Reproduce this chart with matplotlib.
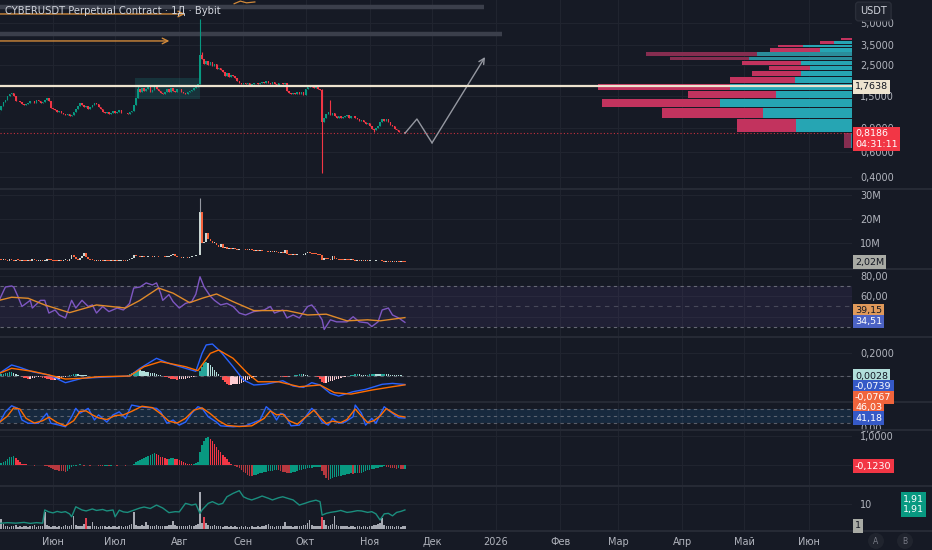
import matplotlib
matplotlib.use("Agg")
import matplotlib.pyplot as plt
import matplotlib.dates as mdates
import numpy as np
import pandas as pd
from matplotlib.lines import Line2D
from matplotlib.patches import Rectangle
from matplotlib.ticker import NullLocator
from matplotlib.transforms import blended_transform_factory

plt.rcParams['font.family'] = ['DejaVu Sans']

# ---------------- data ----------------
START = "2025-05-06"
FIRST_OPEN = 1.12
CLOSES = [
    1.20, 1.28, 1.36, 1.42, 1.50, 1.55, 1.58, 1.52, 1.40, 1.38,
    1.36, 1.33, 1.30, 1.32, 1.35, 1.40, 1.38, 1.35, 1.42, 1.38,
    1.34, 1.36, 1.42, 1.45, 1.40, 1.24, 1.22, 1.20, 1.16, 1.18,
    1.14, 1.12, 1.10, 1.12, 1.08, 1.11, 1.16, 1.22, 1.28, 1.34,
    1.30, 1.26, 1.28, 1.22, 1.25, 1.30, 1.35, 1.32, 1.27, 1.22,
    1.16, 1.14, 1.17, 1.13, 1.15, 1.18, 1.14, 1.16, 1.19, 1.15,
    1.14, 1.15, 1.13, 1.16, 1.18, 1.30, 1.45, 1.68, 1.62, 1.72,
    1.65, 1.70, 1.75, 1.62, 1.66, 1.78, 1.70, 1.64, 1.58, 1.55,
    1.62, 1.68, 1.60, 1.72, 1.65, 1.60, 1.68, 1.70, 1.62, 1.58,
    1.55, 1.60, 1.63, 1.66, 1.72, 1.80, 1.85, 2.95, 2.75, 2.55,
    2.70, 2.50, 2.65, 2.45, 2.55, 2.35, 2.40, 2.30, 2.25, 2.10,
    2.20, 2.05, 2.12, 2.08, 2.02, 1.92, 1.88, 1.85, 1.86, 1.84,
    1.86, 1.82, 1.85, 1.88, 1.86, 1.83, 1.87, 1.90, 1.88, 1.92,
    1.86, 1.84, 1.90, 1.85, 1.82, 1.86, 1.88, 1.84, 1.86, 1.65,
    1.58, 1.56, 1.58, 1.55, 1.60, 1.56, 1.62, 1.53, 1.68, 1.74,
    1.80, 1.76, 1.72, 1.75, 1.70, 1.66, 0.98, 1.06, 1.12, 1.16,
    1.10, 1.14, 1.08, 1.06, 1.09, 1.05, 1.07, 1.08, 1.10, 1.06,
    1.08, 1.09, 1.05, 1.03, 1.00, 1.02, 0.98, 0.95, 0.97, 0.92,
    0.88, 0.87, 0.90, 0.93, 0.98, 1.03, 1.00, 1.04, 0.99, 0.94,
    0.92, 0.88, 0.86, 0.84, 0.83, 0.84, 0.8186,
]
WICK_HIGHS = {67: 1.80, 97: 5.30, 98: 3.10, 156: 1.70, 160: 1.41}
WICK_LOWS = {96: 1.76, 156: 0.43, 181: 0.84}
LAST_PRICE = 0.8186
LEVEL_PRICE = 1.7638

# right-hand volume profile (price bins, buy / sell volume)
VP_LOW = [3.78, 3.54, 3.37, 3.10, 2.91, 2.72, 2.51, 2.31, 2.10, 1.88, 1.66, 1.46, 1.26, 1.05, 0.84, 0.64]
VP_HIGH = [3.91, 3.72, 3.48, 3.32, 3.08, 2.86, 2.68, 2.47, 2.27, 2.06, 1.85, 1.64, 1.44, 1.24, 1.03, 0.82]
VP_BUY = [0, 18, 49, 32, 95, 103, 51, 42, 51, 57, 122, 76, 132, 89, 56, 1]
VP_SELL = [11, 14, 25, 50, 111, 79, 59, 41, 49, 65, 132, 88, 118, 101, 59, 7]
VP_FADED = [4, 5, 15]

# drawings on the price pane
ARROW_LEVELS = [5.79, 3.72]
ARROW_END_DAYS = [89.8, 82.2]
BAND_LEVELS = [6.54, 4.17]
BAND_END_DAYS = [234.0, 243.0]
BOX_DAYS = (65.6, 97.0)
BOX_PRICES = (1.44, 2.03)
PATH_DAYS = [196.0, 201.8, 209.1, 234.7]
PATH_PRICES = [0.8186, 1.035, 0.70, 2.86]
SQUIGGLE_DAYS = [113.5, 116.5, 119.5, 123.5]
SQUIGGLE_PRICES = [6.85, 7.15, 6.95, 7.05]

VOLUME = [  # millions
    3.2, 2.8, 3.5, 3.0, 2.6, 3.3, 2.9, 2.7, 3.1, 2.8,
    2.6, 3.0, 2.7, 2.5, 2.9, 2.6, 3.2, 2.8, 2.6, 2.7,
    2.9, 2.5, 2.7, 3.4, 3.0, 2.8, 2.6, 2.5, 2.4, 2.6,
    2.5, 2.8, 3.0, 2.7, 3.3, 5.0, 4.2, 3.4, 3.0, 3.6,
    4.5, 6.0, 4.2, 3.5, 3.0, 2.8, 2.7, 2.9, 2.6, 2.8,
    2.5, 2.7, 2.6, 2.4, 2.6, 2.5, 2.7, 2.5, 2.6, 2.8,
    2.7, 2.6, 3.0, 3.4, 3.8, 4.8, 4.4, 4.6, 4.2, 4.5,
    4.3, 4.0, 4.4, 4.7, 4.2, 4.4, 4.6, 4.3, 4.0, 4.2,
    4.1, 4.3, 4.5, 4.8, 5.4, 4.6, 4.2, 4.0, 3.8, 4.0,
    4.1, 3.9, 4.2, 4.4, 4.6, 4.8, 5.2, 23.0, 10.0, 10.4,
    14.0, 11.5, 11.0, 10.0, 10.2, 9.0, 8.5, 9.5, 8.0, 8.4,
    7.6, 7.9, 7.4, 7.8, 7.5, 7.2, 7.6, 7.3, 7.5, 7.2,
    7.0, 7.4, 7.1, 6.8, 7.0, 6.6, 6.9, 6.7, 6.5, 6.8,
    6.4, 6.6, 6.3, 6.5, 6.2, 6.0, 6.3, 6.0, 7.0, 5.5,
    5.2, 5.0, 5.1, 4.9, 5.0, 4.8, 5.0, 5.2, 6.0, 6.3,
    5.8, 5.6, 5.4, 5.3, 5.1, 5.0, 3.0, 3.6, 3.3, 3.2,
    3.0, 4.5, 3.5, 3.2, 3.1, 3.0, 2.9, 3.0, 2.9, 2.8,
    3.0, 2.8, 2.7, 2.9, 2.6, 2.7, 2.5, 2.6, 2.4, 2.5,
    2.3, 2.4, 2.6, 2.3, 2.5, 2.4, 2.2, 2.3, 2.2, 2.1,
    2.3, 2.1, 2.2, 2.0, 2.1, 2.05, 2.02,
]
VOLUME_WICKS = {97: 28.7}

RSI_DAYS = [0, 3, 6, 7, 9, 11, 13, 15, 16, 20, 22, 24, 27, 29, 32, 35, 37, 40, 43, 45,
            47, 50, 53, 57, 60, 63, 65, 68, 71, 74, 76, 78, 79, 82, 84, 87, 90, 93, 95, 97,
            99, 102, 104, 107, 110, 113, 116, 119, 123, 128, 131, 133, 137, 139, 142, 145,
            149, 151, 153, 156, 157, 160, 163, 168, 171, 174, 178, 180, 183, 185, 188, 190,
            193, 196]
RSI_VALS = [56, 69, 70, 69, 60, 50, 53, 56, 48.5, 56, 56, 43.6, 46.6, 41.7, 38.8, 56, 48.5,
            56, 50, 51.5, 43.6, 50, 45, 48.5, 46.6, 53, 68, 69, 73, 71, 73, 63, 56, 61.6, 54.7,
            48.5, 53, 54.7, 62, 79, 69, 60, 56, 51.5, 53, 50, 43.6, 41.7, 45, 46.6, 50, 43.6,
            46.6, 38.8, 41.7, 38.8, 50, 51.5, 46.6, 37, 27.6, 37, 35, 35, 40, 35, 34, 30.4, 35,
            46.6, 48.5, 41.7, 38.8, 34.51]
RSI_MA_DAYS = [0, 6, 14, 22, 34, 47, 61, 68, 77, 84, 92, 98, 105, 113, 123, 139, 149, 158,
               168, 178, 184, 196]
RSI_MA_VALS = [56, 59, 58, 51.5, 44, 51.5, 48.5, 56, 68, 63, 53.7, 58, 62.2, 54.7, 46, 46,
               41.7, 42.5, 36, 37, 36, 39.15]

MACD_DAYS = [0, 6, 10, 16, 24, 32, 40, 48, 63, 68, 76, 82, 90, 95, 98, 100, 103, 107, 113,
             118, 123, 129, 137, 142, 147, 151, 155, 160, 164, 171, 177, 185, 190, 196]
MACD_VALS = [0.023, 0.096, 0.075, 0.037, 0.009, -0.058, -0.02, -0.012, 0, 0.067, 0.154, 0.11,
             0.067, 0.041, 0.197, 0.27, 0.278, 0.211, 0.081, -0.035, -0.078, -0.07, -0.041,
             -0.087, -0.099, -0.058, -0.078, -0.151, -0.174, -0.136, -0.116, -0.072, -0.064,
             -0.0739]
SIGNAL_DAYS = [0, 6, 16, 24, 32, 40, 48, 63, 70, 78, 90, 96, 102, 106, 113, 120, 125, 135,
               145, 155, 162, 170, 180, 190, 196]
SIGNAL_VALS = [0.023, 0.067, 0.041, 0.009, -0.026, -0.02, -0.006, 0, 0.081, 0.125, 0.081,
               0.047, 0.197, 0.226, 0.154, 0.023, -0.05, -0.05, -0.093, -0.078, -0.145,
               -0.157, -0.122, -0.093, -0.0767]
MACD_HIST = [
    0.010, 0.015, 0.020, 0.026, 0.030, 0.034, 0.035, 0.030, 0.018, 0.008,
    -0.004, -0.010, -0.015, -0.020, -0.023, -0.022, -0.018, -0.015, -0.012, -0.010,
    -0.012, -0.016, -0.020, -0.026, -0.030, -0.034, -0.036, -0.032, -0.028, -0.024,
    -0.018, -0.012, -0.006, 0.002, 0.008, 0.012, 0.016, 0.018, 0.016, 0.012,
    0.010, 0.008, 0.006, 0.004, 0.002, 0.000, -0.002, -0.004, -0.006, -0.008,
    -0.010, -0.012, -0.010, -0.008, -0.006, -0.004, -0.003, -0.002, -0.001, 0.000,
    0.002, 0.004, 0.008, 0.015, 0.025, 0.035, 0.045, 0.050, 0.048, 0.044,
    0.040, 0.036, 0.033, 0.030, 0.026, 0.022, 0.018, 0.012, 0.006, 0.000,
    -0.006, -0.012, -0.018, -0.022, -0.026, -0.030, -0.031, -0.030, -0.028, -0.026,
    -0.024, -0.020, -0.016, -0.012, -0.008, -0.004, 0.000, 0.040, 0.080, 0.110,
    0.120, 0.112, 0.095, 0.075, 0.055, 0.035, 0.015, -0.010, -0.035, -0.055,
    -0.070, -0.076, -0.074, -0.072, -0.070, -0.068, -0.066, -0.062, -0.055, -0.045,
    -0.035, -0.025, -0.016, -0.010, -0.006, -0.003, 0.000, 0.002, 0.003, 0.004,
    0.003, 0.002, 0.001, 0.000, -0.002, -0.004, -0.006, -0.008, -0.010, -0.012,
    -0.008, -0.004, 0.002, 0.008, 0.012, 0.016, 0.018, 0.016, 0.012, 0.008,
    0.004, 0.000, -0.004, -0.008, -0.012, -0.030, -0.055, -0.060, -0.058, -0.052,
    -0.046, -0.040, -0.034, -0.028, -0.022, -0.016, -0.010, -0.005, 0.000, 0.004,
    0.008, 0.012, 0.014, 0.016, 0.015, 0.013, 0.012, 0.010, 0.012, 0.015,
    0.018, 0.020, 0.019, 0.017, 0.015, 0.016, 0.018, 0.017, 0.015, 0.012,
    0.010, 0.008, 0.007, 0.006, 0.005, 0.004, 0.003,
]

STOCH_K_DAYS = [0, 3, 6, 9, 11, 14, 19, 23, 25, 29, 32, 35, 37, 39, 43, 46, 48, 52, 55, 58,
                61, 64, 68, 71, 76, 78, 81, 84, 87, 90, 93, 96, 98, 101, 105, 107, 113, 119,
                126, 129, 131, 134, 136, 138, 141, 145, 148, 151, 153, 156, 159, 161, 164,
                167, 171, 172, 175, 177, 180, 182, 186, 188, 191, 193, 196]
STOCH_K_VALS = [19, 68, 94, 83, 33, 19, 19, 62, 19, 11, 4, 47, 83, 62, 83, 33, 55, 24, 55, 68,
                40, 97, 90, 87, 83, 68, 19, 33, 11, 24, 62, 90, 83, 47, 24, 8, 4, 8, 33, 90,
                75, 33, 62, 55, 8, 11, 47, 83, 68, 24, 11, 40, 19, 24, 47, 97, 62, 11, 40, 19,
                90, 75, 55, 43, 41.18]
STOCH_D_DAYS = [0, 4, 7, 10, 13, 17, 21, 24, 28, 32, 36, 39, 42, 45, 48, 52, 56, 60, 64, 69,
                74, 78, 82, 86, 90, 94, 98, 102, 106, 110, 116, 122, 128, 131, 134, 137, 140,
                144, 148, 152, 155, 158, 161, 165, 168, 172, 175, 178, 181, 184, 187, 190,
                193, 196]
STOCH_D_VALS = [22, 50, 85, 80, 40, 20, 30, 45, 22, 8, 30, 70, 72, 55, 42, 35, 52, 55, 70, 92,
                86, 60, 28, 20, 40, 75, 85, 60, 30, 10, 5, 8, 40, 72, 55, 58, 30, 15, 45, 75,
                45, 18, 28, 22, 35, 80, 50, 22, 30, 50, 82, 65, 50, 46.03]

MOMENTUM = [
    0.05, 0.08, 0.12, 0.16, 0.22, 0.28, 0.30, 0.31, 0.26, 0.18,
    0.10, 0.06, 0.04, 0.03, 0.02, 0.01, 0.00, -0.01, 0.01, 0.02,
    0.01, 0.00, -0.01, -0.02, -0.05, -0.08, -0.12, -0.15, -0.17, -0.19,
    -0.20, -0.21, -0.22, -0.20, -0.12, -0.05, -0.03, -0.02, 0.02, 0.03,
    0.01, -0.01, 0.02, 0.00, -0.02, 0.01, 0.02, 0.00, -0.01, -0.02,
    -0.03, -0.02, -0.01, -0.02, -0.01, 0.00, 0.01, -0.01, 0.00, 0.01,
    0.00, -0.01, 0.00, 0.01, 0.02, 0.06, 0.10, 0.14, 0.18, 0.22,
    0.26, 0.30, 0.33, 0.36, 0.39, 0.41, 0.38, 0.34, 0.30, 0.27,
    0.24, 0.20, 0.22, 0.24, 0.25, 0.23, 0.20, 0.17, 0.14, 0.11,
    0.08, 0.06, 0.05, 0.04, 0.05, 0.08, 0.10, 0.45, 0.70, 0.85,
    0.94, 0.99, 0.92, 0.82, 0.72, 0.62, 0.52, 0.44, 0.36, 0.28,
    0.20, 0.12, 0.06, 0.02, -0.02, -0.06, -0.10, -0.16, -0.22, -0.28,
    -0.33, -0.36, -0.37, -0.35, -0.32, -0.29, -0.27, -0.25, -0.23, -0.22,
    -0.21, -0.20, -0.19, -0.18, -0.17, -0.18, -0.20, -0.22, -0.24, -0.27,
    -0.28, -0.26, -0.24, -0.22, -0.20, -0.18, -0.16, -0.14, -0.12, -0.10,
    -0.09, -0.08, -0.07, -0.06, -0.05, -0.05, -0.20, -0.35, -0.45, -0.50,
    -0.48, -0.45, -0.42, -0.40, -0.38, -0.36, -0.34, -0.32, -0.30, -0.29,
    -0.28, -0.30, -0.28, -0.26, -0.28, -0.25, -0.23, -0.20, -0.18, -0.16,
    -0.14, -0.12, -0.10, -0.08, -0.06, -0.05, -0.04, -0.05, -0.07, -0.09,
    -0.10, -0.11, -0.12, -0.11, -0.12, -0.13, -0.123,
]

BOTTOM_BARS = [
    10.3, 4.0, 2.0, 1.2, 1.0, 0.8, 1.1, 0.9, 1.3, 0.8,
    1.0, 0.7, 1.2, 0.9, 0.8, 1.1, 0.9, 1.4, 0.8, 1.0,
    0.9, 1.2, 6.9, 1.5, 1.0, 0.8, 1.2, 0.9, 0.7, 1.0,
    0.8, 1.1, 1.3, 0.9, 1.0, 1.6, 5.0, 1.4, 1.0, 0.9,
    1.2, 1.8, 4.2, 1.2, 1.0, 2.8, 1.1, 0.9, 0.8, 1.0,
    0.9, 1.1, 0.8, 1.0, 0.7, 0.9, 1.2, 0.8, 1.0, 0.9,
    0.8, 1.0, 1.1, 1.3, 1.8, 6.9, 1.5, 1.2, 1.0, 1.4,
    1.1, 2.6, 1.3, 1.0, 1.2, 0.9, 1.3, 1.0, 1.1, 0.9,
    1.0, 1.2, 1.4, 1.5, 3.2, 1.3, 1.1, 1.0, 1.2, 0.9,
    1.0, 1.1, 1.3, 1.0, 1.2, 1.4, 1.8, 15.0, 2.4, 4.6,
    2.1, 1.5, 1.2, 1.0, 1.3, 0.9, 1.0, 1.1, 0.8, 1.0,
    0.9, 0.8, 1.0, 0.7, 0.9, 0.8, 0.7, 1.0, 0.8, 0.9,
    0.7, 0.8, 0.9, 0.7, 0.8, 1.0, 0.8, 0.9, 1.2, 1.4,
    2.0, 1.0, 0.9, 0.8, 1.0, 1.1, 0.9, 1.2, 2.8, 1.0,
    0.9, 1.0, 0.8, 1.1, 1.0, 0.9, 1.2, 1.4, 1.6, 2.2,
    3.5, 1.6, 1.2, 1.0, 0.9, 1.1, 4.8, 3.6, 1.5, 1.2,
    1.4, 1.8, 5.0, 1.6, 1.2, 1.0, 0.9, 1.1, 1.0, 0.8,
    0.9, 1.0, 0.8, 0.9, 1.1, 0.8, 1.0, 0.9, 0.8, 1.0,
    1.1, 1.4, 1.6, 1.8, 2.4, 4.2, 1.5, 1.2, 1.0, 0.9,
    1.0, 0.8, 0.9, 1.1, 0.8, 0.9, 1.0,
]
BOTTOM_RED_DAYS = [42, 99, 156]
BOTTOM_LINE_DAYS = [0, 4, 8, 12, 15, 18, 21, 22, 24, 26, 28, 30, 32, 34, 35, 37, 40, 42, 45,
                    47, 50, 52, 55, 56, 58, 60, 62, 64, 66, 68, 70, 73, 76, 79, 82, 85, 87, 90,
                    93, 95, 97, 98, 101, 103, 106, 108, 110, 113, 116, 118, 120, 122, 125, 127,
                    130, 132, 135, 137, 140, 142, 145, 148, 150, 153, 155, 156, 158, 160, 163,
                    165, 168, 170, 173, 175, 178, 180, 182, 184, 186, 188, 190, 192, 194, 196]
BOTTOM_LINE_VALS = [2.1, 2.4, 2.2, 2.5, 2.1, 2.4, 2.2, 7.6, 6.8, 6.4, 7.0, 6.6, 6.9, 6.0, 4.8,
                    8.9, 7.6, 7.2, 8.0, 7.4, 7.8, 7.2, 7.6, 4.8, 7.5, 6.8, 6.6, 7.2, 7.8, 8.4,
                    8.8, 8.2, 9.6, 8.4, 6.5, 6.9, 6.8, 10.3, 9.6, 10.0, 6.2, 7.6, 10.3, 11.0,
                    9.8, 10.3, 13.0, 14.4, 15.5, 13.0, 12.2, 11.7, 12.6, 13.3, 12.4, 11.7, 12.6,
                    13.0, 12.2, 11.7, 9.6, 10.4, 11.0, 11.6, 11.0, 5.5, 6.2, 6.6, 7.0, 7.4, 6.6,
                    6.8, 7.3, 7.2, 6.6, 6.9, 6.0, 3.5, 6.0, 6.2, 5.2, 6.6, 7.0, 7.6]

MONTH_STARTS = ["2025-06-01", "2025-07-01", "2025-08-01", "2025-09-01", "2025-10-01",
                "2025-11-01", "2025-12-01", "2026-01-01", "2026-02-01", "2026-03-01",
                "2026-04-01", "2026-05-01", "2026-06-01"]
MONTH_LABELS = ["Июн", "Июл", "Авг", "Сен", "Окт", "Ноя", "Дек", "2026", "Фев", "Мар",
                "Апр", "Май", "Июн"]

# ---------------- style ----------------
BG = '#161A25'
GRID = '#20242F'
SEP = '#2A2E39'
TEXT = '#B2B5BE'
UP = '#089981'
DOWN = '#F23645'
W, H = 932, 550
PLOT_RIGHT = 852
PX_PER_DAY = 2.07

base = mdates.date2num(pd.Timestamp(START))
n = len(CLOSES)
x = base + np.arange(n)
x_left = base + 0.39
XLIM = (x_left, x_left + PLOT_RIGHT / PX_PER_DAY)
months = mdates.date2num(pd.to_datetime(MONTH_STARTS))

fig = plt.figure(figsize=(W / 100, H / 100), dpi=100, facecolor=BG)


def panel(top, bottom):
    ax = fig.add_axes([0, 1 - bottom / H, PLOT_RIGHT / W, (bottom - top) / H], facecolor=BG)
    ax.set_xlim(XLIM)
    ax.set_xticks(months)
    ax.tick_params(axis='x', length=0, labelbottom=False)
    ax.yaxis.tick_right()
    ax.tick_params(axis='y', length=0, pad=6, labelsize=7, labelcolor=TEXT)
    ax.grid(True, color=GRID, lw=0.8)
    ax.set_axisbelow(True)
    for s in ax.spines.values():
        s.set_visible(False)
    return ax


def comma(v, digits):
    return f"{v:.{digits}f}".replace('.', ',')


def tag(xp, yp, s, fc, tc='white', size=6.8):
    fig.text(xp / W, 1 - yp / H, s, ha='left', va='center', fontsize=size, color=tc,
             linespacing=1.25, bbox=dict(boxstyle='square,pad=0.25', fc=fc, ec='none'), zorder=10)


# ---- price pane ----
ax = panel(0, 189)
ax.set_yscale('log')
ax.set_ylim(0.3286, 7.28)
price_ticks = [0.4, 0.6, 0.9, 1.5, 2.5, 3.5, 5.0]
ax.set_yticks(price_ticks)
ax.set_yticklabels([comma(v, 4) for v in price_ticks])
ax.yaxis.set_minor_locator(NullLocator())

opens = [FIRST_OPEN] + CLOSES[:-1]
for i in range(n):
    o, c = opens[i], CLOSES[i]
    col = UP if c >= o else DOWN
    hi = WICK_HIGHS.get(i, max(o, c))
    lo = WICK_LOWS.get(i, min(o, c))
    ax.vlines(x[i], lo, hi, color=col, lw=0.8, zorder=3)
    ax.bar(x[i], abs(c - o), bottom=min(o, c), width=0.75, color=col, lw=0, zorder=3)

# volume profile anchored to the right edge
vp_tr = blended_transform_factory(ax.transAxes, ax.transData)
for k in range(len(VP_LOW)):
    faded = k in VP_FADED
    buy_w = VP_BUY[k] / PLOT_RIGHT
    sell_w = VP_SELL[k] / PLOT_RIGHT
    hgt = VP_HIGH[k] - VP_LOW[k]
    ax.add_patch(Rectangle((1 - buy_w, VP_LOW[k]), buy_w, hgt, transform=vp_tr,
                           fc='#2A8D9B' if faded else '#26A5B3', ec='none', zorder=2))
    ax.add_patch(Rectangle((1 - buy_w - sell_w, VP_LOW[k]), sell_w, hgt, transform=vp_tr,
                           fc='#862D50' if faded else '#C2335E', ec='none', zorder=2))

# drawings
for lvl, end in zip(BAND_LEVELS, BAND_END_DAYS):
    ax.plot([XLIM[0], base + end], [lvl, lvl], color='#3B3F4B', lw=3.2, zorder=2,
            solid_capstyle='butt')
for lvl, end in zip(ARROW_LEVELS, ARROW_END_DAYS):
    ax.annotate('', xy=(base + end, lvl), xytext=(XLIM[0], lvl),
                arrowprops=dict(arrowstyle='->', color='#D0893A', lw=1.0,
                                shrinkA=0, shrinkB=0), zorder=4)
ax.plot(base + np.array(SQUIGGLE_DAYS), SQUIGGLE_PRICES, color='#D0893A', lw=0.9, zorder=4)
ax.add_patch(Rectangle((base + BOX_DAYS[0], BOX_PRICES[0]), BOX_DAYS[1] - BOX_DAYS[0],
                       BOX_PRICES[1] - BOX_PRICES[0], fc='#1E8C8C', alpha=0.22,
                       ec='none', zorder=2))
ax.axhline(LAST_PRICE, color=DOWN, lw=0.8, ls=(0, (1, 2)), alpha=0.8, zorder=2)
ax.axhline(LEVEL_PRICE, color='#EDE3CF', lw=1.6, zorder=5)
pdays = base + np.array(PATH_DAYS)
ax.plot(pdays[:3], PATH_PRICES[:3], color='#9598A1', lw=1.0, zorder=4)
ax.annotate('', xy=(pdays[3], PATH_PRICES[3]), xytext=(pdays[2], PATH_PRICES[2]),
            arrowprops=dict(arrowstyle='->', color='#9598A1', lw=1.0, shrinkA=0, shrinkB=0),
            zorder=4)

# ---- volume pane ----
axv = panel(190, 268)
axv.set_ylim(-0.42, 32.1)
vt = [10, 20, 30]
axv.set_yticks(vt)
axv.set_yticklabels([f"{v}M" for v in vt])
vopen = [VOLUME[0]] + VOLUME[:-1]
for i in range(n):
    o, c = vopen[i], VOLUME[i]
    col = '#C9D6D3' if c >= o else '#F5623C'
    if i in VOLUME_WICKS:
        axv.vlines(x[i], max(o, c), VOLUME_WICKS[i], color='#9598A1', lw=0.8)
    axv.bar(x[i], max(abs(c - o), 0.35), bottom=min(o, c), width=0.8, color=col, lw=0)

# ---- RSI pane ----
axr = panel(270, 336)
axr.set_ylim(21.2, 85.6)
axr.set_yticks([40, 60, 80])
axr.set_yticklabels(['', comma(60, 2), comma(80, 2)])  # 40 sits under the value tags
axr.axhspan(30, 70, color='#7E57C2', alpha=0.1, lw=0)
for lvl, ls, a in [(70, (0, (3, 3)), 0.8), (50, (0, (4, 4)), 0.45), (30, (0, (3, 3)), 0.8)]:
    axr.axhline(lvl, color='#787B86', lw=0.8, ls=ls, alpha=a)
axr.plot(base + np.array(RSI_DAYS), RSI_VALS, color='#7E57C2', lw=1.0)
axr.plot(base + np.array(RSI_MA_DAYS), RSI_MA_VALS, color='#E08A2A', lw=1.0)

# ---- MACD pane ----
axm = panel(337, 401)
axm.set_ylim(-0.217, 0.339)
axm.set_yticks([0.0, 0.2])
axm.set_yticklabels(['', comma(0.2, 4)])
axm.axhline(0, color='#787B86', lw=0.8, ls=(0, (3, 3)), alpha=0.7)
hist_cols = []
for i, v in enumerate(MACD_HIST):
    prev = MACD_HIST[i - 1] if i else v
    if v >= 0:
        hist_cols.append('#26A69A' if v >= prev else '#B2DFDB')
    else:
        hist_cols.append('#FFCDD2' if v > prev else '#FF5252')
axm.bar(x, MACD_HIST, width=0.75, color=hist_cols, lw=0)
axm.plot(base + np.array(MACD_DAYS), MACD_VALS, color='#2962FF', lw=1.0)
axm.plot(base + np.array(SIGNAL_DAYS), SIGNAL_VALS, color='#FF6D00', lw=1.0)

# ---- Stochastic pane ----
axs = panel(403, 429)
axs.set_ylim(-5.6, 105.9)
axs.set_yticks([0])
axs.set_yticklabels(['0,00'])
axs.grid(False, axis='y')
axs.axhspan(20, 80, color='#2196F3', alpha=0.12, lw=0)
for lvl in (80, 50, 20):
    axs.axhline(lvl, color='#787B86', lw=0.8, ls=(0, (3, 3)), alpha=0.7)
axs.plot(base + np.array(STOCH_K_DAYS), STOCH_K_VALS, color='#2962FF', lw=1.0)
axs.plot(base + np.array(STOCH_D_DAYS), STOCH_D_VALS, color='#FF6D00', lw=1.0)

# ---- momentum histogram pane ----
axo = panel(431, 485)
axo.set_ylim(-0.68, 1.18)
axo.set_yticks([0.0, 1.0])
axo.set_yticklabels(['', comma(1.0, 4)])
mom_cols = []
for i, v in enumerate(MOMENTUM):
    prev = MOMENTUM[i - 1] if i else v
    if v >= prev:
        mom_cols.append(UP)
    else:
        mom_cols.append(DOWN if v >= 0 else '#B8383F')
axo.bar(x, MOMENTUM, width=0.75, color=mom_cols, lw=0)

# ---- bottom pane ----
axb = panel(487, 530)
axb.set_ylim(-0.61, 17.0)
axb.set_yticks([10])
axb.set_yticklabels(['10'])
bar_cols = ['#E04050' if i in BOTTOM_RED_DAYS else '#A7AAB3' for i in range(n)]
axb.bar(x, BOTTOM_BARS, width=0.75, color=bar_cols, lw=0)
axb.plot(base + np.array(BOTTOM_LINE_DAYS), BOTTOM_LINE_VALS, color='#1B8E7E', lw=1.0)
axb.set_xticklabels(MONTH_LABELS)
axb.tick_params(axis='x', labelbottom=True, labelsize=7, labelcolor=TEXT, pad=5)

# pane separators
for yp in (189.5, 269, 336.5, 402, 430, 486, 530.5):
    fig.add_artist(Line2D([0, 1], [1 - yp / H] * 2, color=SEP, lw=1.2))

# title and value tags
fig.text(5 / W, 1 - 11 / H, 'CYBERUSDT Perpetual Contract · 1Д · Bybit', fontsize=7.2,
         color='#D1D4DC', va='center', ha='left')
fig.text(860 / W, 1 - 11.5 / H, 'USDT', fontsize=7, color='#D1D4DC', va='center', ha='left',
         bbox=dict(boxstyle='round,pad=0.45,rounding_size=0.3', fc='#1E222D', ec='#2A2E39'),
         zorder=10)
tag(855, 87, comma(LEVEL_PRICE, 4), '#EDE3CF', '#131722')
tag(855, 139, comma(LAST_PRICE, 4) + '\n04:31:11', DOWN)
tag(855, 262, '2,02M', '#A9ABA5', '#131722')
tag(855, 310.5, '39,15', '#E0995A', '#131722')
tag(855, 321.5, '34,51', '#4C63C4')
tag(855, 376, '0,0028', '#B2DFDB', '#131722')
tag(855, 387, '-0,0739', '#3559C7')
tag(855, 397.5, '-0,0767', '#F0643C')
tag(855, 407.5, '46,03', '#F0643C')
tag(855, 418, '41,18', '#3559C7')
tag(855, 466, '-0,1230', DOWN)
tag(903, 504.5, '1,91\n1,91', UP)
tag(855, 526, '1', '#A9ABA5', '#131722')
for xp, s in ((876, 'A'), (905, 'B')):
    fig.text(xp / W, 1 - 541 / H, s, fontsize=5.5, color='#787B86', ha='center', va='center',
             bbox=dict(boxstyle='circle,pad=0.45', fc='#20242E', ec='none'))

fig.savefig('out.png', dpi=100, facecolor=BG)
